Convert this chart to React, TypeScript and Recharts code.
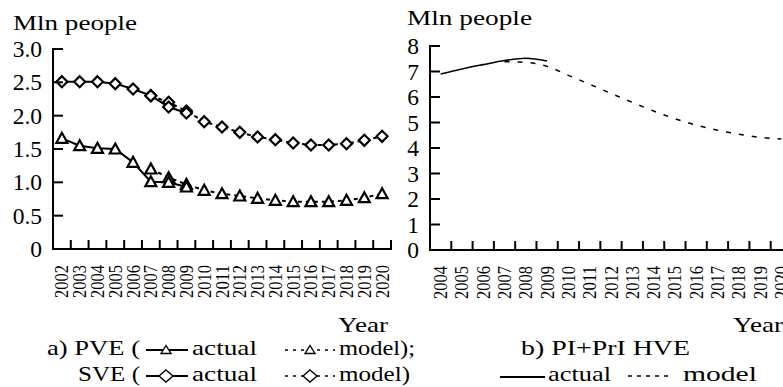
import React from 'react';
import { ComposedChart, Line, XAxis, YAxis } from 'recharts';

// ---------- data ----------
const leftYears = ['2002','2003','2004','2005','2006','2007','2008','2009','2010','2011','2012','2013','2014','2015','2016','2017','2018','2019','2020'];
const pveActual = [1.66, 1.55, 1.51, 1.50, 1.30, 1.01, 1.00, 0.93, null, null, null, null, null, null, null, null, null, null, null];
const pveModel = [null, null, null, null, null, 1.20, 1.07, 0.97, 0.88, 0.83, 0.795, 0.76, 0.73, 0.71, 0.71, 0.71, 0.73, 0.77, 0.83];
const sveActual = [2.51, 2.51, 2.51, 2.48, 2.40, 2.30, 2.13, 2.04, null, null, null, null, null, null, null, null, null, null, null];
const sveModel = [null, null, null, null, null, 2.30, 2.20, 2.07, 1.91, 1.83, 1.75, 1.68, 1.64, 1.59, 1.56, 1.56, 1.58, 1.63, 1.69];
const leftYTicks = [0, 0.5, 1, 1.5, 2, 2.5, 3];

const rightYears = ['2004','2005','2006','2007','2008','2009','2010','2011','2012','2013','2014','2015','2016','2017','2018','2019','2020'];
const hveActual = [6.9, 7.1, 7.27, 7.43, 7.52, 7.41, null, null, null, null, null, null, null, null, null, null, null];
const hveModel = [null, null, null, 7.38, 7.36, 7.2, 6.85, 6.5, 6.14, 5.79, 5.45, 5.15, 4.9, 4.7, 4.54, 4.42, 4.35];
const rightYTicks = [0, 1, 2, 3, 4, 5, 6, 7, 8];

const leftData = leftYears.map((year, i) => ({
  year,
  pveActual: pveActual[i],
  pveModel: pveModel[i],
  sveActual: sveActual[i],
  sveModel: sveModel[i],
}));
const rightData = rightYears.map((year, i) => ({
  year,
  hveActual: hveActual[i],
  hveModel: hveModel[i],
}));

// ---------- layout ----------
const FONT = "'Liberation Serif', 'Times New Roman', serif";
const L = { w: 400, h: 310, top: 49, left: 53, right: 9, plotH: 200 };
const R = { x: 380, w: 422, h: 310, top: 46, left: 50, right: 10, plotH: 204 };
const leftBand = (L.w - L.left - L.right) / leftYears.length;
const rightBand = (R.w - R.left - R.right) / rightYears.length;

const makeYTick = (fmt: (v: number) => string) => (props: any) => {
  const { x, y, payload, index } = props;
  return (
    <g key={`yt-${index}`}>
      <line x1={x} y1={y} x2={x + 10} y2={y} stroke="#000" strokeWidth={2} />
      <text x={x - 11} y={y + 8} textAnchor="end" fontFamily={FONT} fontSize={23.5} fill="#000">
        {fmt(payload.value)}
      </text>
    </g>
  );
};

const makeXTick = (bw: number) => (props: any) => {
  const { x, y, payload, index } = props;
  return (
    <g key={`xt-${index}`}>
      <line x1={x + bw / 2} y1={y} x2={x + bw / 2} y2={y - 9} stroke="#000" strokeWidth={2} />
      <text
        transform={`translate(${x + 6.5},${y + 16}) rotate(-90)`}
        textAnchor="end"
        fontFamily={FONT}
        fontSize={18}
        textLength={33}
        lengthAdjust="spacingAndGlyphs"
        fill="#000"
      >
        {payload.value}
      </text>
    </g>
  );
};

const triDot = (p: any) => {
  const { cx, cy, index, value } = p;
  if (cx == null || cy == null || value == null) return <g key={`t-${index}`} />;
  return (
    <polygon
      key={`t-${index}`}
      points={`${cx},${cy - 5.5} ${cx - 5.5},${cy + 4.5} ${cx + 5.5},${cy + 4.5}`}
      fill="#fff"
      stroke="#000"
      strokeWidth={2.2}
    />
  );
};

const diaDot = (p: any) => {
  const { cx, cy, index, value } = p;
  if (cx == null || cy == null || value == null) return <g key={`d-${index}`} />;
  return (
    <polygon
      key={`d-${index}`}
      points={`${cx},${cy - 5.5} ${cx + 5.5},${cy} ${cx},${cy + 5.5} ${cx - 5.5},${cy}`}
      fill="#fff"
      stroke="#000"
      strokeWidth={2.2}
    />
  );
};

const axisLineStyle = { stroke: '#000', strokeWidth: 2, strokeLinecap: 'square' as const };

const T = ({ x, y, w, anchor, children }: any) => (
  <text
    x={x}
    y={y}
    textAnchor={anchor || 'start'}
    fontFamily={FONT}
    fontSize={22}
    fill="#000"
    textLength={w}
    lengthAdjust="spacingAndGlyphs"
  >
    {children}
  </text>
);

const LegTri = ({ cx, cy }: any) => (
  <polygon points={`${cx},${cy - 4.5} ${cx - 5},${cy + 3.5} ${cx + 5},${cy + 3.5}`} fill="#fff" stroke="#000" strokeWidth={1.4} />
);
const LegDia = ({ cx, cy }: any) => (
  <polygon points={`${cx},${cy - 6} ${cx + 7},${cy} ${cx},${cy + 6} ${cx - 7},${cy}`} fill="#fff" stroke="#000" strokeWidth={1.4} />
);

export default function App() {
  return (
    <div style={{ position: 'absolute', left: 0, top: 0, width: 783, height: 387, overflow: 'hidden', background: '#fff' }}>
      <div style={{ position: 'absolute', left: 0, top: 0 }}>
        <ComposedChart
          width={L.w}
          height={L.h}
          data={leftData}
          margin={{ top: L.top, left: 0, right: L.right, bottom: 0 }}
        >
          <XAxis
            dataKey="year"
            type="category"
            scale="band"
            interval={0}
            height={L.h - L.top - L.plotH}
            tickSize={0}
            tickMargin={0}
            tickLine={false}
            axisLine={axisLineStyle}
            tick={makeXTick(leftBand)}
          />
          <YAxis
            type="number"
            domain={[0, 3]}
            ticks={leftYTicks}
            interval={0}
            width={L.left}
            tickSize={0}
            tickMargin={0}
            tickLine={false}
            axisLine={axisLineStyle}
            tick={makeYTick((v) => (v === 0 ? '0' : v.toFixed(1)))}
          />
          <Line dataKey="sveModel" stroke="#000" strokeWidth={2} strokeDasharray="4 4" dot={diaDot} activeDot={false} isAnimationActive={false} />
          <Line dataKey="pveModel" stroke="#000" strokeWidth={2} strokeDasharray="4 4" dot={triDot} activeDot={false} isAnimationActive={false} />
          <Line dataKey="sveActual" stroke="#000" strokeWidth={2} dot={diaDot} activeDot={false} isAnimationActive={false} />
          <Line dataKey="pveActual" stroke="#000" strokeWidth={2} dot={triDot} activeDot={false} isAnimationActive={false} />
        </ComposedChart>
      </div>
      <div style={{ position: 'absolute', left: R.x, top: 0 }}>
        <ComposedChart
          width={R.w}
          height={R.h}
          data={rightData}
          margin={{ top: R.top, left: 0, right: R.right, bottom: 0 }}
        >
          <XAxis
            dataKey="year"
            type="category"
            scale="band"
            interval={0}
            height={R.h - R.top - R.plotH}
            tickSize={0}
            tickMargin={0}
            tickLine={false}
            axisLine={axisLineStyle}
            tick={makeXTick(rightBand)}
          />
          <YAxis
            type="number"
            domain={[0, 8]}
            ticks={rightYTicks}
            interval={0}
            width={R.left}
            tickSize={0}
            tickMargin={0}
            tickLine={false}
            axisLine={axisLineStyle}
            tick={makeYTick((v) => String(v))}
          />
          <Line type="monotone" dataKey="hveModel" stroke="#000" strokeWidth={1.5} strokeDasharray="5 8" dot={false} activeDot={false} isAnimationActive={false} />
          <Line type="monotone" dataKey="hveActual" stroke="#000" strokeWidth={1.6} dot={false} activeDot={false} isAnimationActive={false} />
        </ComposedChart>
      </div>
      <svg width={783} height={387} style={{ position: 'absolute', left: 0, top: 0, pointerEvents: 'none' }}>
        <T x={13} y={30} w={124}>Mln people</T>
        <T x={407} y={25} w={125}>Mln people</T>
        <T x={388} y={332} w={50} anchor="end">Year</T>
        <T x={783} y={332} w={50} anchor="end">Year</T>

        <T x={47} y={355} w={93}>a) PVE (</T>
        <line x1={146} y1={350} x2={188} y2={350} stroke="#000" strokeWidth={2} />
        <LegTri cx={166} cy={350} />
        <T x={192} y={355} w={65}>actual</T>
        <line x1={285} y1={350} x2={335} y2={350} stroke="#000" strokeWidth={1.5} strokeDasharray="3 5" />
        <LegTri cx={310} cy={350} />
        <T x={339} y={355} w={76}>model);</T>

        <T x={78} y={381} w={62}>SVE (</T>
        <line x1={146} y1={376} x2={188} y2={376} stroke="#000" strokeWidth={2} />
        <LegDia cx={166} cy={376} />
        <T x={192} y={381} w={65}>actual</T>
        <line x1={285} y1={376} x2={335} y2={376} stroke="#000" strokeWidth={1.5} strokeDasharray="3 5" />
        <LegDia cx={310} cy={376} />
        <T x={339} y={381} w={71}>model)</T>

        <T x={521} y={355} w={169}>b) PI+PrI HVE</T>
        <line x1={500} y1={377} x2={545} y2={377} stroke="#000" strokeWidth={2} />
        <T x={548} y={381} w={63}>actual</T>
        <line x1={628} y1={376} x2={672} y2={376} stroke="#000" strokeWidth={1.5} strokeDasharray="4 5" />
        <T x={683} y={381} w={74}>model</T>
      </svg>
    </div>
  );
}
